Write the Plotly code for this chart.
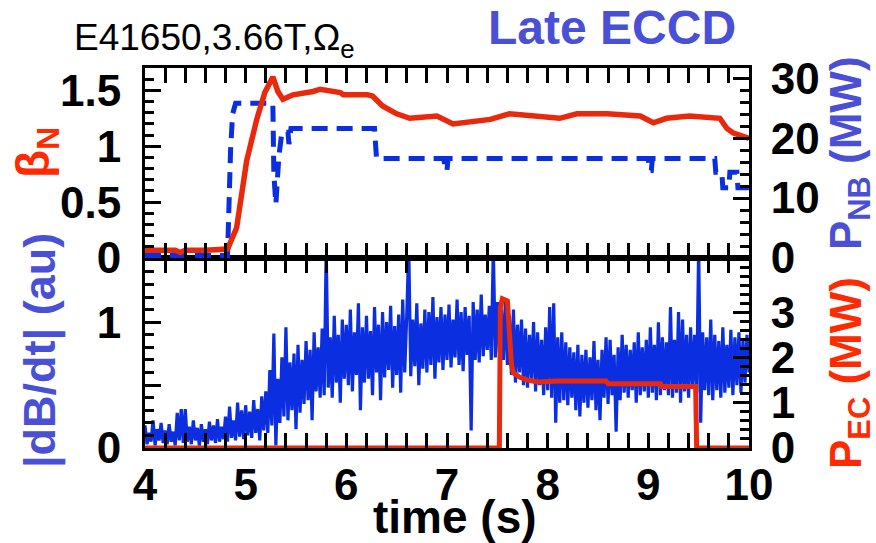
import numpy as np
import plotly.graph_objects as go

# ---- data -------------------------------------------------------------
# normalized beta (top panel, left axis)
t_beta = [4.0, 4.3, 4.35, 4.4, 4.6, 4.8, 4.82, 4.91, 5.01, 5.11, 5.19, 5.27, 5.32,
          5.37, 5.47, 5.67, 5.74, 5.94, 5.97, 6.21, 6.26, 6.36, 6.50, 6.63, 6.90,
          7.06, 7.23, 7.43, 7.62, 7.82, 8.02, 8.12, 8.29, 8.59, 8.92, 9.05, 9.18,
          9.41, 9.71, 9.78, 9.84, 10.0]
beta_n = [0.07, 0.07, 0.05, 0.07, 0.07, 0.07, 0.08, 0.27, 0.87, 1.24, 1.48, 1.62, 1.49,
          1.42, 1.46, 1.49, 1.51, 1.48, 1.46, 1.46, 1.45, 1.36, 1.29, 1.25, 1.27,
          1.20, 1.22, 1.24, 1.29, 1.27, 1.25, 1.25, 1.29, 1.29, 1.27, 1.21, 1.25,
          1.27, 1.25, 1.16, 1.12, 1.07]

# neutral beam power, MW (top panel, right axis)
t_nb = [4.0, 4.82, 4.85, 4.87, 4.90, 5.27, 5.28, 5.30, 5.33, 5.36, 5.42, 5.43, 5.45,
        6.28, 6.30, 6.97, 6.98, 7.00, 7.01, 9.00, 9.01, 9.03, 9.04, 9.66, 9.67,
        9.73, 9.74, 9.80, 9.81, 9.88, 9.89, 10.0]
p_nb = [0.4, 0.4, 18.0, 24.0, 25.8, 25.8, 14.0, 9.0, 17.0, 21.0, 21.0, 19.0, 21.6,
        21.6, 16.6, 16.6, 14.6, 14.6, 16.6, 16.6, 14.6, 14.6, 16.6, 16.6, 14.3,
        14.3, 11.7, 11.7, 14.3, 14.3, 11.7, 11.7]

# EC power, MW (bottom panel, right axis)
t_ec = [4.0, 7.52, 7.53, 7.55, 7.60, 7.62, 7.64, 7.66, 7.72, 7.80, 7.90, 8.10, 8.58,
        8.60, 9.12, 9.13, 9.47, 9.48, 10.0]
p_ec = [0.0, 0.0, 3.1, 3.3, 3.25, 2.4, 1.85, 1.66, 1.57, 1.50, 1.46, 1.48, 1.48,
        1.42, 1.42, 1.36, 1.36, 0.0, 0.0]

# |dB/dt| magnetic probe amplitude, a.u., sampled every 20 ms from 4 s to 10 s
dbdt = [
    0.18, 0.03, 0.12, 0.05, 0.22, 0.02, 0.15, 0.06, 0.20, 0.04,
    0.14, 0.03, 0.19, 0.05, 0.13, 0.02, 0.28, 0.06, 0.31, 0.04,
    0.31, 0.05, 0.17, 0.03, 0.22, 0.06, 0.16, 0.02, 0.19, 0.05,
    0.15, 0.03, 0.21, 0.06, 0.18, 0.04, 0.23, 0.05, 0.17, 0.07,
    0.25, 0.05, 0.33, 0.08, 0.22, 0.06, 0.36, 0.09, 0.30, 0.07,
    0.34, 0.10, 0.29, 0.08, 0.38, 0.12, 0.31, 0.06, 0.41, 0.14,
    0.45, 0.12, 0.62, 0.18, 0.91, 0.02, 0.55, 0.20, 0.72, 0.25,
    0.96, 0.22, 0.68, 0.30, 0.75, 0.15, 0.82, 0.28, 0.70, 0.35,
    0.85, 0.38, 0.78, 0.22, 0.92, 0.45, 0.80, 0.40, 0.95, 0.42,
    1.60, 0.48, 0.88, 0.40, 1.05, 0.52, 0.90, 0.36, 1.02, 0.55,
    0.98, 0.50, 1.10, 0.45, 0.92, 0.58, 1.15, 0.30, 0.96, 0.52,
    1.05, 0.55, 0.93, 0.42, 1.12, 0.60, 0.98, 0.38, 1.08, 0.56,
    1.00, 0.62, 1.13, 0.48, 0.97, 0.58, 1.06, 0.44, 1.18, 0.60,
    1.05, 1.60, 0.57, 1.02, 0.65, 1.15, 0.50, 0.99, 0.63, 1.10,
    0.60, 1.08, 0.66, 1.20, 0.55, 1.04, 0.68, 1.12, 0.62, 1.06,
    0.70, 1.14, 0.64, 1.02, 0.72, 1.18, 0.66, 1.08, 0.61, 1.12,
    0.74, 1.05, 0.14, 1.16, 0.70, 1.10, 0.68, 1.22, 0.73, 1.06,
    0.78, 1.13, 0.70, 1.60, 0.72, 1.16, 0.76, 1.10, 0.70, 1.19,
    0.66, 1.05, 0.58, 1.10, 0.52, 0.98, 0.60, 1.02, 0.50, 0.95,
    0.48, 0.90, 0.55, 1.00, 0.45, 0.92, 0.50, 0.86, 0.42, 0.96,
    0.46, 1.12, 0.40, 1.15, 0.20, 0.88, 0.36, 0.92, 0.38, 0.84,
    0.34, 0.80, 0.40, 0.76, 0.30, 0.82, 0.25, 0.74, 0.36, 0.78,
    0.32, 0.72, 0.38, 0.85, 0.30, 0.70, 0.22, 0.78, 0.40, 0.88,
    0.35, 0.86, 0.42, 0.74, 0.13, 0.80, 0.38, 0.90, 0.44, 0.82,
    0.40, 0.78, 0.46, 0.84, 0.36, 0.92, 0.42, 0.80, 0.45, 0.86,
    0.40, 0.96, 0.44, 0.82, 0.38, 1.00, 0.42, 0.88, 0.46, 0.84,
    0.42, 1.12, 0.40, 0.86, 0.44, 1.08, 0.36, 1.02, 0.45, 0.90,
    0.40, 0.96, 0.48, 0.90, 0.44, 1.60, 0.20, 0.92, 0.46, 0.88,
    0.42, 1.02, 0.38, 0.90, 0.46, 0.85, 0.40, 0.96, 0.44, 0.82,
    0.48, 0.94, 0.42, 0.88, 0.50, 0.92, 0.44, 0.86, 0.52, 0.90, 0.60,
]
t_db = np.linspace(4.0, 10.0, len(dbdt))

x_ticks = [4, 5, 6, 7, 8, 9, 10]

# ---- styling ----------------------------------------------------------
RED = "#e8290c"
BLUE = "#0a2ee0"
LBL_BLUE = "#4a50d6"
LBL_RED = "#ff2a00"
FONT = "Liberation Sans, Arial, sans-serif"
tickfont = dict(family=FONT, size=44, color="black", weight="bold")

W, H = 876, 543
ML, MR, MT, MB = 145, 127, 68, 95


def px(xp):
    return (xp - ML) / (W - ML - MR)


def py(yp):
    return (H - MB - yp) / (H - MT - MB)


fig = go.Figure()

# bottom panel
fig.add_trace(go.Scatter(x=t_db, y=dbdt, mode="lines", xaxis="x", yaxis="y",
                         line=dict(color=BLUE, width=3.2), showlegend=False))
fig.add_trace(go.Scatter(x=t_ec, y=p_ec, mode="lines", xaxis="x", yaxis="y2",
                         line=dict(color=RED, width=5), showlegend=False))
# top panel
fig.add_trace(go.Scatter(x=t_nb, y=p_nb, mode="lines", xaxis="x2", yaxis="y3",
                         line=dict(color=BLUE, width=5, dash="16px,9px"),
                         showlegend=False))
fig.add_trace(go.Scatter(x=t_beta, y=beta_n, mode="lines", xaxis="x2", yaxis="y4",
                         line=dict(color=RED, width=5.5), showlegend=False))

axis_common = dict(showline=True, linecolor="black", linewidth=3, ticks="inside",
                   tickcolor="black", tickwidth=3, showgrid=False, zeroline=False,
                   tickfont=tickfont)

xcommon = dict(axis_common, range=[4, 10], tickvals=x_ticks, ticklen=15,
               mirror="allticks",
               minor=dict(dtick=0.2, ticklen=8, ticks="inside", tickcolor="black",
                          tickwidth=3, showgrid=False))

fig.update_layout(
    width=W, height=H,
    margin=dict(l=ML, r=MR, t=MT, b=MB),
    paper_bgcolor="white", plot_bgcolor="white",
    xaxis=dict(xcommon, anchor="y", ticklabelstandoff=-4),
    xaxis2=dict(xcommon, anchor="y3", matches="x", showticklabels=False),
    yaxis=dict(axis_common, domain=[0, 0.5], anchor="x", range=[0, 1.51],
               tickvals=[0, 0.5, 1], ticktext=["0", "", "1"], ticklen=16,
               ticklabelstandoff=12,
               minor=dict(dtick=0.1, ticklen=9, ticks="inside", tickcolor="black",
                          tickwidth=3, showgrid=False)),
    yaxis2=dict(axis_common, overlaying="y", side="right", anchor="x",
                range=[0, 4.2], tickvals=[0, 1, 2, 3], ticklen=16,
                ticklabelstandoff=10,
                minor=dict(dtick=0.2, ticklen=9, ticks="inside", tickcolor="black",
                           tickwidth=3, showgrid=False)),
    yaxis3=dict(axis_common, domain=[0.5, 1], anchor="x2", side="right",
                range=[0, 31.7], tickvals=[0, 10, 20, 30], ticklen=16,
                ticklabelstandoff=10,
                minor=dict(dtick=2, ticklen=9, ticks="inside", tickcolor="black",
                           tickwidth=3, showgrid=False)),
    yaxis4=dict(axis_common, overlaying="y3", side="left", anchor="x2",
                range=[0, 1.7], tickvals=[0, 0.5, 1, 1.5],
                ticktext=["0", "0.5", "1", "1.5"], ticklen=16,
                ticklabelstandoff=12,
                minor=dict(dtick=0.1, ticklen=9, ticks="inside", tickcolor="black",
                           tickwidth=3, showgrid=False)),
)

ann = []
ann.append(dict(text="E41650,3.66T,Ω<sub>e</sub>", x=px(72), y=py(40),
                xanchor="left", yanchor="middle",
                font=dict(family=FONT, size=37, color="black")))
ann.append(dict(text="<b>Late ECCD</b>", x=px(612), y=py(28),
                xanchor="center", yanchor="middle",
                font=dict(family=FONT, size=48, color=LBL_BLUE)))
ann.append(dict(text="<b>time (s)</b>", x=px(455), y=py(517),
                xanchor="center", yanchor="middle",
                font=dict(family=FONT, size=46, color="black")))
ann.append(dict(text="<b>β<sub>N</sub></b>", x=px(36), y=py(153), textangle=-90,
                xanchor="center", yanchor="middle",
                font=dict(family=FONT, size=46, color=LBL_RED)))
ann.append(dict(text="<b>|dB/dt| (au)</b>", x=px(40), y=py(351), textangle=-90,
                xanchor="center", yanchor="middle",
                font=dict(family=FONT, size=45, color=LBL_BLUE)))
ann.append(dict(text="<b>P<sub>NB</sub> (MW)</b>", x=px(849), y=py(153), textangle=-90,
                xanchor="center", yanchor="middle",
                font=dict(family=FONT, size=44, color=LBL_BLUE)))
ann.append(dict(text="<b>P<sub>EC</sub> (MW)</b>", x=px(849), y=py(373), textangle=-90,
                xanchor="center", yanchor="middle",
                font=dict(family=FONT, size=44, color=LBL_RED)))
for a in ann:
    a.update(xref="paper", yref="paper", showarrow=False)
fig.update_layout(annotations=ann)

fig.write_html("out.html")
